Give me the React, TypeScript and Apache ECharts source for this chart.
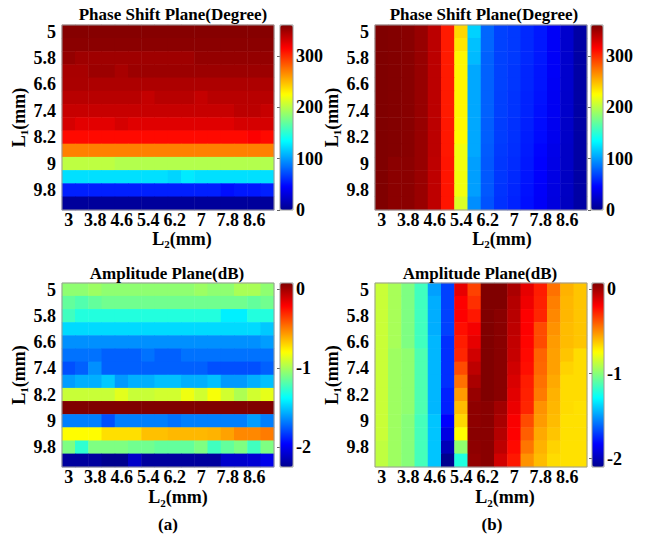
import React, { useEffect, useRef } from 'react';
import * as echarts from 'echarts';

// ---------- data ----------
const L2 = ['3', '3.4', '3.8', '4.2', '4.6', '5', '5.4', '5.8', '6.2', '6.6', '7', '7.4', '7.8', '8.2', '8.6', '9'];
const L1 = ['5', '5.4', '5.8', '6.2', '6.6', '7', '7.4', '7.8', '8.2', '8.6', '9', '9.4', '9.8', '10.2'];

// (a) phase, rows = L1 (top to bottom), cols = L2
const phaseA = [
  [358, 358, 358, 358, 358, 358, 358, 358, 358, 358, 358, 358, 358, 358, 358, 358],
  [356, 356, 356, 356, 356, 356, 356, 356, 356, 356, 356, 356, 356, 356, 356, 356],
  [353, 349, 349, 349, 349, 349, 349, 349, 349, 349, 353, 353, 353, 353, 353, 353],
  [346, 346, 350, 350, 346, 350, 350, 350, 350, 350, 350, 350, 350, 350, 350, 350],
  [345, 345, 344, 344, 344, 344, 344, 344, 344, 344, 344, 344, 344, 344, 344, 344],
  [340, 340, 340, 340, 340, 340, 336, 340, 340, 340, 336, 340, 340, 340, 340, 340],
  [335, 335, 335, 335, 335, 335, 335, 335, 335, 335, 335, 335, 335, 339, 339, 335],
  [330, 325, 325, 325, 330, 326, 326, 326, 326, 326, 326, 326, 326, 330, 330, 330],
  [312, 312, 312, 312, 312, 312, 312, 312, 312, 312, 312, 312, 312, 312, 316, 312],
  [270, 270, 270, 270, 270, 270, 270, 270, 270, 270, 270, 270, 270, 270, 270, 270],
  [202, 202, 202, 202, 198, 198, 198, 198, 198, 198, 198, 198, 198, 198, 198, 198],
  [124, 124, 124, 124, 124, 124, 124, 124, 120, 128, 124, 124, 124, 124, 124, 124],
  [56, 56, 56, 56, 56, 56, 56, 56, 56, 56, 56, 56, 50, 53, 53, 56],
  [5, 5, 5, 5, 5, 5, 5, 5, 5, 5, 5, 5, 5, 5, 5, 5],
];

// (a) amplitude
const ampA = [
  [-1.05, -1.05, -1.02, -1.05, -1.05, -1.05, -1.05, -1.05, -1.05, -1.05, -1.02, -1.05, -1.05, -0.99, -0.99, -1.05],
  [-1.15, -1.19, -1.15, -1.12, -1.12, -1.12, -1.12, -1.12, -1.12, -1.12, -1.12, -1.12, -1.12, -1.12, -1.15, -1.12],
  [-1.23, -1.30, -1.30, -1.30, -1.30, -1.30, -1.30, -1.30, -1.30, -1.30, -1.30, -1.30, -1.41, -1.41, -1.30, -1.30],
  [-1.46, -1.46, -1.46, -1.46, -1.46, -1.46, -1.46, -1.46, -1.46, -1.46, -1.46, -1.46, -1.46, -1.46, -1.46, -1.50],
  [-1.63, -1.63, -1.63, -1.63, -1.63, -1.63, -1.63, -1.63, -1.63, -1.63, -1.63, -1.63, -1.63, -1.63, -1.63, -1.60],
  [-1.70, -1.70, -1.70, -1.74, -1.74, -1.74, -1.70, -1.74, -1.74, -1.70, -1.70, -1.70, -1.70, -1.70, -1.70, -1.70],
  [-1.78, -1.74, -1.63, -1.74, -1.74, -1.74, -1.74, -1.74, -1.74, -1.74, -1.74, -1.78, -1.78, -1.78, -1.78, -1.74],
  [-1.60, -1.56, -1.56, -1.50, -1.61, -1.56, -1.56, -1.52, -1.52, -1.56, -1.56, -1.52, -1.61, -1.61, -1.56, -1.52],
  [-0.92, -0.92, -0.92, -0.92, -0.86, -0.92, -0.92, -0.90, -0.90, -0.83, -0.90, -0.81, -0.90, -0.98, -0.90, -0.85],
  [0.08, 0.08, 0.08, 0.08, 0.08, 0.08, 0.08, 0.08, 0.08, 0.08, 0.08, 0.08, 0.08, 0.08, 0.08, 0.08],
  [-1.67, -1.67, -1.67, -1.78, -1.67, -1.67, -1.67, -1.67, -1.70, -1.67, -1.67, -1.67, -1.67, -1.67, -1.60, -1.67],
  [-0.79, -0.79, -0.79, -0.72, -0.72, -0.72, -0.65, -0.65, -0.63, -0.63, -0.63, -0.62, -0.58, -0.52, -0.52, -0.49],
  [-1.09, -1.27, -1.09, -1.09, -1.09, -1.12, -1.12, -1.15, -1.15, -1.15, -1.09, -1.23, -1.15, -1.09, -1.23, -1.09],
  [-2.21, -2.21, -2.21, -2.25, -2.25, -2.10, -2.21, -2.21, -2.21, -2.21, -2.21, -2.21, -2.09, -2.09, -2.07, -2.01],
];

// (b) phase
const phaseB = [
  [360, 359, 357, 352, 339, 306, 239, 119, 81, 68, 65, 59, 53, 42, 25, 9],
  [360, 359, 357, 352, 339, 306, 234, 113, 81, 68, 65, 59, 53, 42, 25, 9],
  [360, 359, 357, 352, 339, 306, 228, 111, 79, 68, 65, 59, 53, 42, 25, 9],
  [360, 359, 357, 352, 339, 306, 228, 104, 79, 68, 64, 58, 52, 42, 25, 9],
  [360, 359, 357, 352, 339, 306, 228, 104, 79, 68, 64, 58, 52, 41, 25, 9],
  [360, 359, 357, 352, 339, 306, 228, 104, 79, 67, 63, 57, 51, 40, 24, 9],
  [360, 359, 357, 352, 339, 306, 228, 104, 79, 67, 63, 57, 50, 40, 24, 9],
  [360, 359, 357, 352, 339, 307, 227, 104, 78, 66, 62, 56, 49, 39, 23, 9],
  [360, 359, 357, 352, 339, 307, 226, 104, 78, 66, 62, 55, 48, 38, 23, 9],
  [360, 359, 357, 352, 339, 307, 220, 104, 77, 65, 61, 54, 46, 36, 22, 9],
  [360, 356, 356, 352, 338, 308, 220, 101, 76, 64, 60, 53, 45, 35, 22, 9],
  [360, 356, 356, 351, 338, 308, 220, 101, 76, 64, 59, 52, 44, 34, 21, 9],
  [360, 356, 356, 351, 338, 308, 220, 101, 76, 63, 58, 51, 43, 33, 21, 9],
  [360, 356, 356, 351, 338, 308, 212, 95, 74, 62, 57, 50, 42, 32, 20, 9],
];

// (b) amplitude
const ampB = [
  [-0.86, -0.93, -1.02, -1.15, -1.49, -1.69, -0.15, -0.34, 0.07, 0.07, -0.02, -0.15, -0.26, -0.44, -0.58, -0.62],
  [-0.86, -0.93, -1.02, -1.15, -1.46, -1.69, -0.20, -0.30, 0.07, 0.07, -0.04, -0.17, -0.27, -0.47, -0.59, -0.62],
  [-0.86, -0.93, -1.02, -1.15, -1.46, -1.69, -0.20, -0.25, 0.07, 0.05, -0.05, -0.20, -0.28, -0.49, -0.59, -0.62],
  [-0.86, -0.93, -1.02, -1.15, -1.46, -1.69, -0.23, -0.18, 0.07, 0.05, -0.06, -0.20, -0.36, -0.51, -0.60, -0.62],
  [-0.86, -0.93, -1.02, -1.15, -1.44, -1.73, -0.26, -0.15, 0.07, 0.05, -0.07, -0.21, -0.36, -0.53, -0.60, -0.62],
  [-0.86, -0.95, -0.98, -1.12, -1.44, -1.73, -0.28, -0.10, 0.07, 0.05, -0.08, -0.22, -0.41, -0.54, -0.62, -0.67],
  [-0.86, -0.95, -0.98, -1.12, -1.44, -1.73, -0.36, -0.06, 0.07, 0.05, -0.10, -0.23, -0.42, -0.54, -0.65, -0.67],
  [-0.86, -0.95, -0.98, -1.12, -1.44, -1.73, -0.44, -0.02, 0.07, 0.05, -0.12, -0.26, -0.44, -0.56, -0.67, -0.67],
  [-0.86, -0.95, -0.98, -1.12, -1.44, -1.76, -0.53, 0.02, 0.07, 0.05, -0.14, -0.27, -0.46, -0.58, -0.67, -0.67],
  [-0.86, -0.95, -0.98, -1.12, -1.44, -1.76, -0.60, 0.04, 0.05, 0.00, -0.16, -0.28, -0.51, -0.59, -0.67, -0.68],
  [-0.86, -0.95, -1.00, -1.14, -1.41, -1.83, -0.66, 0.04, 0.05, -0.02, -0.19, -0.36, -0.53, -0.60, -0.68, -0.68],
  [-0.86, -0.95, -1.00, -1.14, -1.41, -1.90, -0.74, 0.05, 0.05, -0.04, -0.20, -0.40, -0.56, -0.62, -0.68, -0.68],
  [-0.88, -0.95, -1.00, -1.14, -1.41, -2.00, -0.98, 0.04, 0.05, -0.06, -0.22, -0.45, -0.58, -0.65, -0.68, -0.68],
  [-0.88, -0.95, -1.00, -1.14, -1.41, -2.10, -1.22, 0.03, 0.05, -0.10, -0.25, -0.51, -0.60, -0.67, -0.68, -0.68],
];

const phaseTicks = [0, 100, 200, 300];
const ampTicks = [-2, -1, 0];
const phaseRange = [0, 360];
const ampRangeA = [-2.25, 0.08];
const ampRangeB = [-2.1, 0.07];
const titleTexts = ['Phase Shift Plane(Degree)', 'Amplitude Plane(dB)'];
const panelLabels = ['(a)', '(b)'];

// ---------- style ----------
const FONT = '"Liberation Serif", "Times New Roman", serif';
const JET = ['#00008F', '#0000FF', '#0080FF', '#00FFFF', '#80FF80', '#FFFF00', '#FF8000', '#FF0000', '#800000'];

const panels = [
  { data: phaseA, range: phaseRange, ticks: phaseTicks, title: titleTexts[0],
    plot: { left: 62, top: 25, width: 212, height: 185 }, bar: { left: 280, width: 13 },
    titleX: 173, titleY: 6, xNameGap: 10, xNamePad: 28, yNameGap: 30 },
  { data: phaseB, range: phaseRange, ticks: phaseTicks, title: titleTexts[0],
    plot: { left: 375, top: 25, width: 212, height: 185 }, bar: { left: 591, width: 12 },
    titleX: 484, titleY: 6, xNameGap: 10, xNamePad: 42, yNameGap: 32 },
  { data: ampA, range: ampRangeA, ticks: ampTicks, title: titleTexts[1],
    plot: { left: 62, top: 283, width: 212, height: 184 }, bar: { left: 280, width: 13 },
    titleX: 167, titleY: 265, xNameGap: 19, xNamePad: 20, yNameGap: 29 },
  { data: ampB, range: ampRangeB, ticks: ampTicks, title: titleTexts[1],
    plot: { left: 375, top: 283, width: 212, height: 184 }, bar: { left: 592, width: 12 },
    titleX: 480, titleY: 265, xNameGap: 19, xNamePad: 48, yNameGap: 29 },
];

const nameRich = {
  a: { fontSize: 18, fontWeight: 'bold', fontFamily: FONT, color: '#000', lineHeight: 22 },
  s: { fontSize: 11, fontWeight: 'bold', fontFamily: FONT, color: '#000', lineHeight: 12, verticalAlign: 'bottom' },
};
const labelStyle = { fontSize: 18, fontWeight: 'bold', fontFamily: FONT, color: '#000' };

function buildOption() {
  const grid: any[] = [];
  const xAxis: any[] = [];
  const yAxis: any[] = [];
  const series: any[] = [];
  const visualMap: any[] = [];
  const title: any[] = [];

  panels.forEach((p, i) => {
    const gPlot = grid.length;
    grid.push({ ...p.plot, show: true, borderColor: '#9a9a9a', borderWidth: 1, backgroundColor: 'transparent', z: 3 });
    const gBar = grid.length;
    grid.push({ left: p.bar.left, top: p.plot.top, width: p.bar.width, height: p.plot.height,
      show: true, borderColor: '#9a9a9a', borderWidth: 1, backgroundColor: 'transparent', z: 6 });

    xAxis.push({
      type: 'category', gridIndex: gPlot, data: L2, position: 'bottom',
      axisLine: { show: false }, axisTick: { show: false }, splitLine: { show: false },
      axisLabel: { ...labelStyle, interval: 1, margin: 1 },
      name: '{a|L}{s|2}{a|(mm)}', nameLocation: 'middle', nameGap: p.xNameGap,
      nameTextStyle: { rich: nameRich, padding: [0, 0, 0, p.xNamePad] },
    });
    yAxis.push({
      type: 'category', gridIndex: gPlot, data: L1, inverse: true,
      axisLine: { show: false }, axisTick: { show: false }, splitLine: { show: false },
      axisLabel: { ...labelStyle, interval: 1, margin: 6 },
      name: '{a|L}{s|1}{a|(mm)}', nameLocation: 'middle', nameGap: p.yNameGap,
      nameTextStyle: { rich: nameRich },
    });
    xAxis.push({ type: 'value', gridIndex: gBar, show: false, min: 0, max: 1 });
    yAxis.push({
      type: 'value', gridIndex: gBar, position: 'right', min: p.range[0], max: p.range[1],
      axisLine: { show: false }, splitLine: { show: false },
      axisTick: { show: true, inside: true, length: 3, customValues: p.ticks, lineStyle: { color: '#666' } },
      axisLabel: { ...labelStyle, margin: 3, customValues: p.ticks },
    });

    const data: any[] = [];
    p.data.forEach((row, r) => row.forEach((v, c) => data.push([c, r, v])));
    series.push({
      type: 'heatmap', xAxisIndex: gPlot, yAxisIndex: gPlot, data,
      itemStyle: { borderWidth: 0 }, emphasis: { disabled: true },
    });
    visualMap.push({
      type: 'continuous', seriesIndex: i, min: p.range[0], max: p.range[1], dimension: 2,
      calculable: false, show: true, orient: 'vertical',
      left: p.bar.left, top: p.plot.top, itemWidth: p.bar.width, itemHeight: p.plot.height,
      padding: 0, text: null, hoverLink: false,
      inRange: { color: JET },
    });
    title.push({
      text: p.title, left: p.titleX, top: p.titleY, textAlign: 'center', textVerticalAlign: 'top', padding: 0,
      textStyle: { fontSize: 17, fontWeight: 'bold', fontFamily: FONT, color: '#000' },
    });
  });

  title.push({ text: panelLabels[0], left: 168, top: 516, textAlign: 'center', textVerticalAlign: 'top', padding: 0,
    textStyle: { fontSize: 17, fontWeight: 'bold', fontFamily: FONT, color: '#000' } });
  title.push({ text: panelLabels[1], left: 492, top: 516, textAlign: 'center', textVerticalAlign: 'top', padding: 0,
    textStyle: { fontSize: 17, fontWeight: 'bold', fontFamily: FONT, color: '#000' } });

  return {
    animation: false,
    backgroundColor: '#ffffff',
    textStyle: { fontFamily: FONT },
    title, grid, xAxis, yAxis, series, visualMap,
  };
}

export default function App() {
  const ref = useRef<HTMLDivElement>(null);
  useEffect(() => {
    document.body.style.margin = '0';
    if (!ref.current) return;
    const chart = echarts.init(ref.current, null, { renderer: 'svg' });
    chart.setOption(buildOption() as any);
    return () => chart.dispose();
  }, []);
  return <div ref={ref} style={{ width: 648, height: 540 }} />;
}
